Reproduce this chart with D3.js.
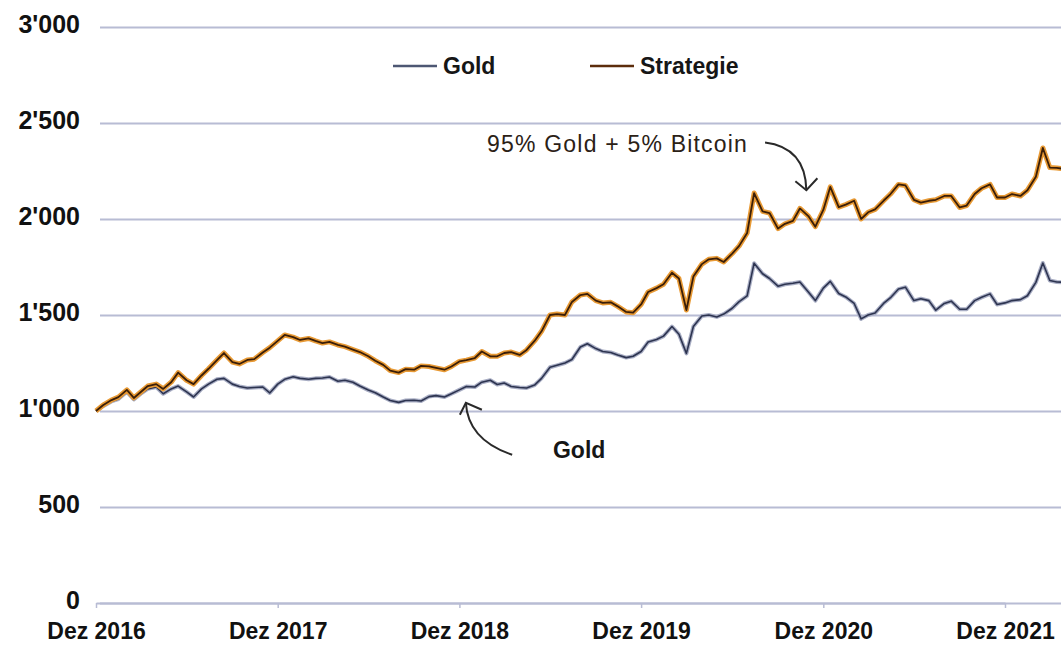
<!DOCTYPE html>
<html>
<head>
<meta charset="utf-8">
<script src="https://cdn.jsdelivr.net/npm/d3@7/dist/d3.min.js"></script>
<style>
  body { margin: 0; background: #fff; }
  svg { display: block; font-family: "Liberation Sans", Arial, sans-serif; }
</style>
</head>
<body>
<div id="chart"></div>
<script>
// --------------------
// DATA (twice a month)
// --------------------
const dates = [
  "2016-12-01","2016-12-15",
  "2017-01-01","2017-01-15","2017-02-01","2017-02-15","2017-03-01","2017-03-15",
  "2017-04-01","2017-04-15","2017-05-01","2017-05-15","2017-06-01","2017-06-15",
  "2017-07-01","2017-07-15","2017-08-01","2017-08-15","2017-09-01","2017-09-15",
  "2017-10-01","2017-10-15","2017-11-01","2017-11-15","2017-12-01","2017-12-15",
  "2018-01-01","2018-01-15","2018-02-01","2018-02-15","2018-03-01","2018-03-15",
  "2018-04-01","2018-04-15","2018-05-01","2018-05-15","2018-06-01","2018-06-15",
  "2018-07-01","2018-07-15","2018-08-01","2018-08-15","2018-09-01","2018-09-15",
  "2018-10-01","2018-10-15","2018-11-01","2018-11-15","2018-12-01","2018-12-15",
  "2019-01-01","2019-01-15","2019-02-01","2019-02-15","2019-03-01","2019-03-15",
  "2019-04-01","2019-04-15","2019-05-01","2019-05-15","2019-06-01","2019-06-15",
  "2019-07-01","2019-07-15","2019-08-01","2019-08-15","2019-09-01","2019-09-15",
  "2019-10-01","2019-10-15","2019-11-01","2019-11-15","2019-12-01","2019-12-15",
  "2020-01-01","2020-01-15","2020-02-01","2020-02-15","2020-03-01","2020-03-15",
  "2020-04-01","2020-04-15","2020-05-01","2020-05-15","2020-06-01","2020-06-15",
  "2020-07-01","2020-07-15","2020-08-01","2020-08-15","2020-09-01","2020-09-15",
  "2020-10-01","2020-10-15","2020-11-01","2020-11-15","2020-12-01","2020-12-15",
  "2021-01-01","2021-01-15","2021-02-01","2021-02-15","2021-03-01","2021-03-15",
  "2021-04-01","2021-04-15","2021-05-01","2021-05-15","2021-06-01","2021-06-15",
  "2021-07-01","2021-07-15","2021-08-01","2021-08-15","2021-09-01","2021-09-15",
  "2021-10-01","2021-10-15","2021-11-01","2021-11-15","2021-12-01","2021-12-15",
  "2022-01-01","2022-01-15","2022-02-01","2022-02-15","2022-03-01","2022-03-15",
  "2022-04-01"
];

const gold = [
  1000, 1025,
  1050, 1062, 1100, 1060, 1090, 1115, 1125, 1090, 1115, 1130, 1100, 1073,
  1115, 1140, 1165, 1170, 1140, 1128, 1120, 1122, 1125, 1094, 1140, 1165,
  1178, 1170, 1165, 1170, 1172, 1177, 1155, 1160, 1150, 1130, 1109, 1095,
  1073, 1055, 1045, 1055, 1056, 1052, 1075, 1080, 1073, 1090, 1110, 1128,
  1125, 1150, 1160, 1138, 1146, 1128, 1122, 1120, 1135, 1170, 1228, 1238,
  1250, 1268, 1333, 1350, 1325, 1310, 1305, 1292, 1278, 1285, 1310, 1359,
  1372, 1390, 1440, 1400, 1300, 1440, 1495, 1500, 1490, 1505, 1535, 1570,
  1600, 1770, 1715, 1690, 1650, 1660, 1665, 1672, 1620, 1575, 1640, 1675,
  1612, 1594, 1560, 1480, 1500, 1510, 1560, 1590, 1635, 1645, 1575, 1585,
  1575, 1525, 1560, 1572, 1530, 1530, 1575, 1592, 1610, 1555, 1563, 1575,
  1580, 1600, 1670, 1771, 1680, 1672,
  1670
];

const strategie = [
  1000, 1030,
  1057, 1072, 1110, 1068, 1099, 1130, 1140, 1115, 1150, 1200, 1160, 1140,
  1185, 1220, 1265, 1302, 1255, 1245, 1266, 1270, 1305, 1330, 1365, 1396,
  1385, 1370, 1378, 1365, 1354, 1360, 1344, 1335, 1320, 1307, 1285, 1262,
  1240, 1210, 1200, 1218, 1215, 1235, 1232, 1224, 1215, 1232, 1258, 1265,
  1276, 1310, 1285, 1285, 1302, 1307, 1292, 1318, 1365, 1415, 1500, 1505,
  1500, 1568, 1604, 1610, 1575, 1563, 1566, 1545, 1516, 1512, 1555, 1620,
  1640, 1660, 1720, 1690, 1526, 1700, 1765, 1790, 1795, 1776, 1820, 1860,
  1927, 2135, 2040, 2031, 1950, 1975, 1990, 2055, 2015, 1960, 2047, 2167,
  2062, 2075, 2095, 2000, 2035, 2050, 2095, 2130, 2180, 2175, 2100, 2085,
  2095, 2100, 2120, 2120, 2060, 2070, 2130, 2160, 2180, 2112, 2112, 2130,
  2120, 2150, 2220, 2370, 2268, 2266,
  2260
];

const seriesNames = ["Gold", "Strategie"];

const yTicks = [0, 500, 1000, 1500, 2000, 2500, 3000];
const yTickLabels = ["0", "500", "1'000", "1'500", "2'000", "2'500", "3'000"];

const xTickDates = ["2016-12-01", "2017-12-01", "2018-12-01", "2019-12-01", "2020-12-01", "2021-12-01"];
const xTickLabels = ["Dez 2016", "Dez 2017", "Dez 2018", "Dez 2019", "Dez 2020", "Dez 2021"];


// --------------------
// SETUP
// --------------------
const width = 1061;
const height = 650;
const parse = d3.timeParse("%Y-%m-%d");

const svg = d3.select("#chart")
  .append("svg")
  .attr("width", width)
  .attr("height", height);

const x = d3.scaleTime()
  .domain([parse("2016-12-01"), parse("2021-12-01")])
  .range([96, 1005]);

const y = d3.scaleLinear()
  .domain([0, 3000])
  .range([603, 27]);

svg.append("clipPath")
  .attr("id", "plot")
  .append("rect")
  .attr("x", 90).attr("y", 0)
  .attr("width", width - 90).attr("height", height);


// --------------------
// GRID + Y AXIS
// --------------------
const yAxis = svg.append("g")
  .attr("transform", "translate(100,0)")
  .call(d3.axisLeft(y)
    .tickValues(yTicks)
    .tickFormat((d, i) => yTickLabels[i])
    .tickSize(-(width - 100))
    .tickPadding(20));

yAxis.select(".domain").remove();
yAxis.selectAll(".tick line")
  .attr("stroke", "#b8bcd4")
  .attr("stroke-width", 2);
yAxis.selectAll(".tick text")
  .attr("dy", "0.2em")
  .style("font-size", "25px")
  .style("font-weight", "bold")
  .attr("fill", "#111");


// --------------------
// X AXIS
// --------------------
const xAxis = svg.append("g")
  .attr("transform", `translate(0,${y(0)})`)
  .call(d3.axisBottom(x)
    .tickValues(xTickDates.map(parse))
    .tickFormat((d, i) => xTickLabels[i])
    .tickSize(5)
    .tickSizeOuter(0)
    .tickPadding(15));

xAxis.select(".domain")
  .attr("stroke", "#b8bcd4")
  .attr("stroke-width", 2);
xAxis.selectAll(".tick line")
  .attr("stroke", "#b8bcd4")
  .attr("stroke-width", 1.5);
xAxis.selectAll(".tick text")
  .style("font-size", "23px")
  .style("font-weight", "bold")
  .attr("fill", "#111");


// --------------------
// LINES
// --------------------
const goldData = dates.map((d, i) => ({ date: parse(d), value: gold[i] }));
const stratData = dates.map((d, i) => ({ date: parse(d), value: strategie[i] }));

const line = d3.line()
  .x(d => x(d.date))
  .y(d => y(d.value));

const plot = svg.append("g").attr("clip-path", "url(#plot)");

// Gold: soft grey halo, dark slate core
plot.append("path")
  .datum(goldData)
  .attr("fill", "none")
  .attr("stroke", "#a9aec4")
  .attr("stroke-width", 4)
  .attr("stroke-linejoin", "round")
  .attr("d", line);
plot.append("path")
  .datum(goldData)
  .attr("fill", "none")
  .attr("stroke", "#2d3450")
  .attr("stroke-width", 1.6)
  .attr("stroke-linejoin", "round")
  .attr("d", line);

// Strategie: orange halo, dark brown core
plot.append("path")
  .datum(stratData)
  .attr("fill", "none")
  .attr("stroke", "#e89a35")
  .attr("stroke-width", 5)
  .attr("stroke-linejoin", "round")
  .attr("d", line);
plot.append("path")
  .datum(stratData)
  .attr("fill", "none")
  .attr("stroke", "#3a1e08")
  .attr("stroke-width", 1.8)
  .attr("stroke-linejoin", "round")
  .attr("d", line);


// --------------------
// ANNOTATIONS
// --------------------
function arrow(from, ctrl, tip, arm1, arm2) {
  const p0 = [x(parse(from[0])), y(from[1])];
  const pc = [x(parse(ctrl[0])), y(ctrl[1])];
  const pt = [x(parse(tip[0])), y(tip[1])];
  svg.append("path")
    .attr("d", `M${p0[0]},${p0[1]} Q${pc[0]},${pc[1]} ${pt[0]},${pt[1]}`)
    .attr("fill", "none")
    .attr("stroke", "#2a2a2a")
    .attr("stroke-width", 2);
  svg.append("path")
    .attr("d", `M${pt[0] + arm1[0]},${pt[1] + arm1[1]} L${pt[0]},${pt[1]} L${pt[0] + arm2[0]},${pt[1] + arm2[1]}`)
    .attr("fill", "none")
    .attr("stroke", "#2a2a2a")
    .attr("stroke-width", 2);
}

svg.append("text")
  .attr("x", x(parse("2020-07-03")))
  .attr("y", y(2351))
  .attr("text-anchor", "end")
  .style("font-size", "23px")
  .style("letter-spacing", "1.2px")
  .attr("fill", "#2b2116")
  .text("95% Gold + 5% Bitcoin");

arrow(["2020-08-06", 2398], ["2020-10-26", 2372], ["2020-10-28", 2150], [-11, -9], [11, -12]);

svg.append("text")
  .attr("x", x(parse("2019-06-07")))
  .attr("y", y(756))
  .style("font-size", "23px")
  .style("font-weight", "bold")
  .attr("fill", "#161616")
  .text("Gold");

arrow(["2019-03-17", 772], ["2018-12-18", 850], ["2018-12-14", 1043], [-6, 12], [16, 7]);


// --------------------
// LEGEND
// --------------------
const legend = svg.append("g");
const legendItems = [
  { name: seriesNames[0], color: "#4d5773", x: 393 },
  { name: seriesNames[1], color: "#5c2d0c", x: 590 }
];

legendItems.forEach(item => {
  legend.append("line")
    .attr("x1", item.x).attr("x2", item.x + 44)
    .attr("y1", 66).attr("y2", 66)
    .attr("stroke", item.color)
    .attr("stroke-width", 2.5);
  legend.append("text")
    .attr("x", item.x + 50)
    .attr("y", 74)
    .style("font-size", "23px")
    .style("font-weight", "bold")
    .attr("fill", "#161616")
    .text(item.name);
});
</script>
</body>
</html>
